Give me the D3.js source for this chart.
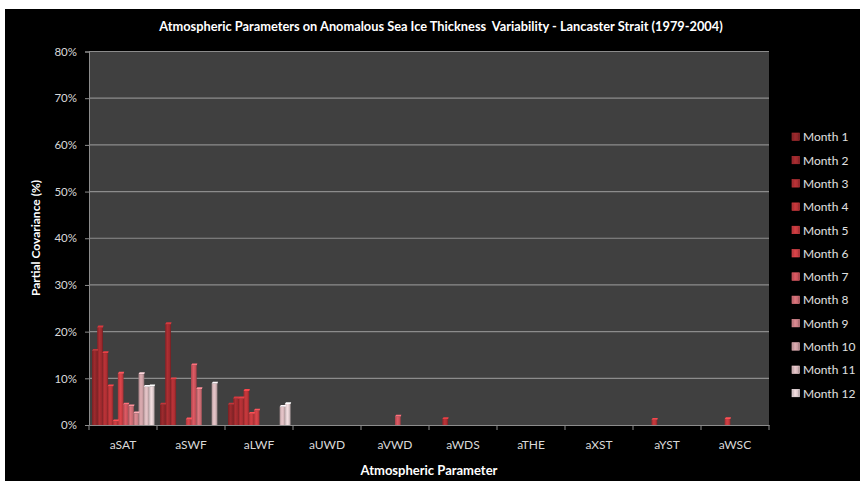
<!DOCTYPE html>
<html>
<head>
<meta charset="utf-8">
<script src="https://cdn.jsdelivr.net/npm/d3@7"></script>
<style>
  html, body { margin: 0; padding: 0; background: #ffffff; }
  svg { display: block; }
  text { font-family: Lato, "Open Sans", "Liberation Sans", sans-serif; }
</style>
</head>
<body>
<svg id="chart" width="865" height="487"></svg>
<script>
// ---- data ----
const categories = ["aSAT", "aSWF", "aLWF", "aUWD", "aVWD", "aWDS", "aTHE", "aXST", "aYST", "aWSC"];
const months = ["Month 1", "Month 2", "Month 3", "Month 4", "Month 5", "Month 6",
                "Month 7", "Month 8", "Month 9", "Month 10", "Month 11", "Month 12"];
// values in % per month, ordered as categories
const month1  = [15.9,  4.4, 4.4, 0, 0,   0,   0, 0, 0,   0];
const month2  = [20.9, 21.6, 5.7, 0, 0,   0,   0, 0, 0,   0];
const month3  = [15.4,  9.8, 5.7, 0, 0,   1.3, 0, 0, 0,   0];
const month4  = [ 8.3,  0,   7.3, 0, 0,   0,   0, 0, 1.1, 0];
const month5  = [ 0.8,  0,   2.4, 0, 0,   0,   0, 0, 0,   1.3];
const month6  = [11.0,  1.2, 3.1, 0, 0,   0,   0, 0, 0,   0];
const month7  = [ 4.4, 12.8, 0,   0, 1.8, 0,   0, 0, 0,   0];
const month8  = [ 4.0,  7.7, 0,   0, 0,   0,   0, 0, 0,   0];
const month9  = [ 2.5,  0,   0,   0, 0,   0,   0, 0, 0,   0];
const month10 = [10.9,  0,   0,   0, 0,   0,   0, 0, 0,   0];
const month11 = [ 8.2,  8.9, 3.9, 0, 0,   0,   0, 0, 0,   0];
const month12 = [ 8.3,  0,   4.5, 0, 0,   0,   0, 0, 0,   0];
const series = [month1, month2, month3, month4, month5, month6,
                month7, month8, month9, month10, month11, month12];
const yTicks = [0, 10, 20, 30, 40, 50, 60, 70, 80];
const monthColors = ["#8e2629", "#9c292d", "#aa2e32", "#b63337", "#c0393d", "#c83e43",
                     "#c8515a", "#c86a71", "#c87e85", "#c89ca1", "#d2b4b7", "#ddcacc"];

// ---- layout ----
const svg = d3.select("#chart");
const plot = { left: 89, right: 769, top: 51.5, bottom: 425 };

svg.append("rect").attr("x", 0).attr("y", 0).attr("width", 865).attr("height", 487).attr("fill", "#ffffff");
svg.append("rect").attr("x", 5).attr("y", 9).attr("width", 855).attr("height", 472).attr("fill", "#000000");

const x0 = d3.scaleBand().domain(categories).range([plot.left, plot.right]).padding(0);
const x1 = d3.scaleBand().domain(months).range([3, x0.bandwidth() - 3]).padding(0);
const y = d3.scaleLinear().domain([0, 80]).range([plot.bottom, plot.top]);

// plot background
svg.append("rect")
  .attr("x", plot.left).attr("y", plot.top)
  .attr("width", plot.right - plot.left).attr("height", plot.bottom - plot.top)
  .attr("fill", "#404040");

// gridlines
svg.append("g").selectAll("line").data(yTicks.filter(t => t > 0)).join("line")
  .attr("x1", plot.left).attr("x2", plot.right)
  .attr("y1", d => y(d)).attr("y2", d => y(d))
  .attr("stroke", "#8c8c8c").attr("stroke-width", 1.2);

// gradients for bars / legend
const defs = svg.append("defs");
monthColors.forEach((c, i) => {
  const g = defs.append("linearGradient").attr("id", "g" + i)
    .attr("x1", "0%").attr("x2", "100%").attr("y1", "0%").attr("y2", "0%");
  const base = d3.color(c);
  g.append("stop").attr("offset", "0%").attr("stop-color", base.darker(0.5));
  g.append("stop").attr("offset", "40%").attr("stop-color", base.brighter(0.3));
  g.append("stop").attr("offset", "75%").attr("stop-color", base);
  g.append("stop").attr("offset", "100%").attr("stop-color", base.darker(0.9));
});

// bars
const groups = svg.append("g").selectAll("g").data(categories).join("g")
  .attr("transform", d => `translate(${x0(d)},0)`);
groups.each(function(cat, ci) {
  const g = d3.select(this);
  const data = months.map((m, mi) => ({ m, mi, v: series[mi][ci] })).filter(d => d.v > 0);
  g.selectAll("rect.bar").data(data).join("rect").attr("class", "bar")
    .attr("x", d => x1(d.m))
    .attr("y", d => y(d.v))
    .attr("width", x1.bandwidth() + 0.6)
    .attr("height", d => y(0) - y(d.v))
    .attr("fill", d => `url(#g${d.mi})`);
  g.selectAll("path.cap").data(data).join("path").attr("class", "cap")
    .attr("d", d => {
      const x = x1(d.m), w = x1.bandwidth() + 0.6, t = y(d.v);
      return `M${x},${t} L${x + 1.2},${t - 1.8} L${x + w + 0.6},${t - 1.8} L${x + w},${t} Z`;
    })
    .attr("fill", d => d3.color(monthColors[d.mi]).brighter(0.9));
});

// axes
const yAxis = d3.axisLeft(y).tickValues(yTicks).tickFormat(d => d + "%").tickSize(4).tickPadding(8);
const gy = svg.append("g").attr("transform", `translate(${plot.left},0)`).call(yAxis);
gy.select(".domain").attr("stroke", "#8c8c8c");
gy.selectAll(".tick line").attr("stroke", "#8c8c8c");
gy.selectAll(".tick text").attr("fill", "#d9d9d9").style("font-size", "11.5px")
  .style("font-family", "Lato, 'Open Sans', sans-serif");

const xAxis = d3.axisBottom(x0).tickSize(0).tickPadding(15);
const gx = svg.append("g").attr("transform", `translate(0,${plot.bottom})`).call(xAxis);
gx.select(".domain").attr("stroke", "#8c8c8c");
gx.selectAll(".tick text").attr("fill", "#d9d9d9").style("font-size", "12px")
  .style("font-family", "Lato, 'Open Sans', sans-serif");
// category boundary ticks
gx.append("g").selectAll("line").data(categories.concat(["__end"])).join("line")
  .attr("x1", (d, i) => plot.left + i * x0.step()).attr("x2", (d, i) => plot.left + i * x0.step())
  .attr("y1", 0).attr("y2", 5).attr("stroke", "#8c8c8c");

// titles
svg.append("text").attr("x", 441).attr("y", 31).attr("text-anchor", "middle")
  .attr("fill", "#ffffff").style("font-size", "12.8px").style("font-weight", "bold")
  .style("white-space", "pre")
  .text("Atmospheric Parameters on Anomalous Sea Ice Thickness  Variability - Lancaster Strait (1979-2004)");
svg.append("text").attr("x", 429).attr("y", 475).attr("text-anchor", "middle")
  .attr("fill", "#ffffff").style("font-size", "13px").style("font-weight", "bold")
  .text("Atmospheric Parameter");
svg.append("text").attr("transform", "translate(40,238) rotate(-90)").attr("text-anchor", "middle")
  .attr("fill", "#ffffff").style("font-size", "12px").style("font-weight", "bold")
  .text("Partial Covariance (%)");

// legend
const legend = svg.append("g").selectAll("g").data(months).join("g")
  .attr("transform", (d, i) => `translate(792,${137 + i * 23.3})`);
legend.append("rect").attr("x", 0).attr("y", -4).attr("width", 7.5).attr("height", 7.5)
  .attr("fill", (d, i) => `url(#g${i})`).attr("stroke", (d, i) => d3.color(monthColors[i]).brighter(0.5)).attr("stroke-width", 0.6);
legend.append("text").attr("x", 11).attr("y", 4.3).attr("fill", "#e0e0e0")
  .style("font-size", "12px").text(d => d);
</script>
</body>
</html>
